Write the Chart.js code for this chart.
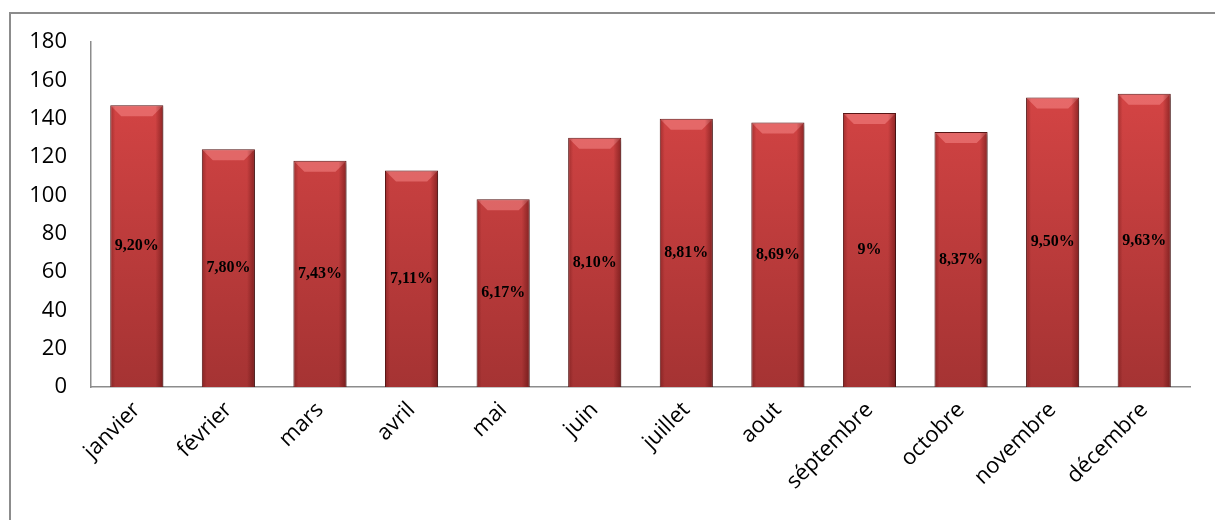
<!DOCTYPE html>
<html>
<head>
<meta charset="utf-8">
<script src="https://cdn.jsdelivr.net/npm/chart.js@4"></script>
<style>
    body { margin: 0; background: #ffffff; }
    #cadre { position: absolute; left: 9px; top: 12px; width: 1230px; height: 540px; border: 2px solid #8c8c8c; }
    #zone { position: absolute; left: 0; top: 0; width: 1215px; height: 520px; }
</style>
</head>
<body>
<div id="cadre"></div>
<div id="zone"><canvas id="grafico"></canvas></div>
<script>
const grafico_mois = document.getElementById('grafico');

const mois = ['janvier', 'février', 'mars', 'avril', 'mai', 'juin', 'juillet', 'aout', 'séptembre', 'octobre', 'novembre', 'décembre'];

const valeurs = [147, 124, 118, 113, 98, 130, 140, 138, 143, 133, 151, 153];

const pourcentages = ['9,20%', '7,80%', '7,43%', '7,11%', '6,17%', '8,10%', '8,81%', '8,69%', '9%', '8,37%', '9,50%', '9,63%'];

// degradé rouge des barres
function couleur_barre(context) {
    const zone = context.chart.chartArea;
    if (!zone) return '#c83c3c';
    const g = context.chart.ctx.createLinearGradient(0, zone.top, 0, zone.bottom);
    g.addColorStop(0, '#dc4747');
    g.addColorStop(1, '#a53333');
    return g;
}

// ombre + biseau + étiquettes en pourcentage
const plugin_barres = {
    id: 'plugin_barres',
    beforeDatasetsDraw(chart) {
        const ctx = chart.ctx;
        ctx.save();
        ctx.shadowColor = 'rgba(0,0,0,0.35)';
        ctx.shadowBlur = 4;
        ctx.shadowOffsetX = 2;
        ctx.shadowOffsetY = 2;
    },
    afterDatasetsDraw(chart) {
        const ctx = chart.ctx;
        ctx.restore();
        const barres = chart.getDatasetMeta(0).data;
        ctx.save();
        barres.forEach((barre, i) => {
            const w = barre.width;
            const gauche = barre.x - w / 2;
            const droite = barre.x + w / 2;
            const haut = barre.y;
            const bas = barre.base;
            // biseau haut
            ctx.fillStyle = 'rgba(255,150,150,0.45)';
            ctx.beginPath();
            ctx.moveTo(gauche + 1, haut + 1);
            ctx.lineTo(droite - 1, haut + 1);
            ctx.lineTo(droite - 11, haut + 11);
            ctx.lineTo(gauche + 11, haut + 11);
            ctx.closePath();
            ctx.fill();
            // bord droit sombre
            const gd = ctx.createLinearGradient(droite - 8, 0, droite, 0);
            gd.addColorStop(0, 'rgba(60,0,0,0)');
            gd.addColorStop(1, 'rgba(60,0,0,0.45)');
            ctx.fillStyle = gd;
            ctx.fillRect(droite - 8, haut + 1, 7, bas - haut - 1);
            // bord gauche sombre
            const gg = ctx.createLinearGradient(gauche, 0, gauche + 5, 0);
            gg.addColorStop(0, 'rgba(60,0,0,0.3)');
            gg.addColorStop(1, 'rgba(60,0,0,0)');
            ctx.fillStyle = gg;
            ctx.fillRect(gauche + 1, haut + 1, 5, bas - haut - 1);
            // étiquette
            ctx.fillStyle = '#000000';
            ctx.font = 'bold 16px "Liberation Serif"';
            ctx.textAlign = 'center';
            ctx.textBaseline = 'middle';
            ctx.fillText(pourcentages[i], barre.x, (haut + bas) / 2);
        });
        ctx.restore();
    }
};

const data_mois = {
    labels: mois,
    datasets: [{
        label: 'Valeurs',
        data: valeurs,
        backgroundColor: couleur_barre,
        borderColor: '#5c1717',
        borderWidth: 1,
        barPercentage: 0.58,
        categoryPercentage: 1
    }]
};

const config_mois = {
    type: 'bar',
    data: data_mois,
    plugins: [plugin_barres],
    options: {
        responsive: true,
        maintainAspectRatio: false,
        animation: false,
        layout: {
            padding: { top: 42, right: 25, left: 0, bottom: 0 }
        },
        scales: {
            y: {
                min: 0,
                max: 180,
                afterFit(scale) { scale.width = 91; },
                grid: { display: false, drawTicks: false },
                border: { display: true, color: '#8c8c8c', width: 1.5 },
                ticks: {
                    stepSize: 20,
                    padding: 24,
                    color: '#000000',
                    font: { size: 22, family: 'Open Sans' }
                }
            },
            x: {
                afterFit(scale) { scale.height = 133; },
                grid: { display: false, drawTicks: false },
                border: { display: true, color: '#8c8c8c', width: 1.5 },
                ticks: {
                    minRotation: 45,
                    maxRotation: 45,
                    padding: 10,
                    autoSkip: false,
                    color: '#000000',
                    font: { size: 22, family: 'Open Sans' }
                }
            }
        },
        plugins: {
            legend: { display: false },
            tooltip: { enabled: false },
            title: { display: false }
        }
    }
};

const grafico_mensal = new Chart(grafico_mois, config_mois);
</script>
</body>
</html>
